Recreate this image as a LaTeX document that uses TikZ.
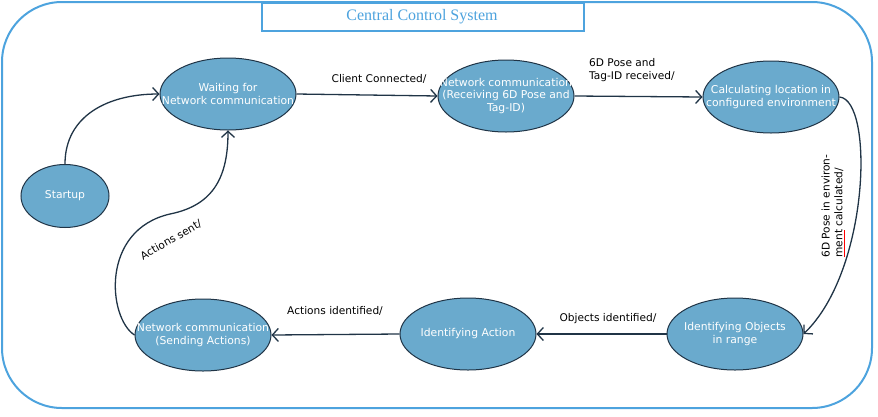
\documentclass[tikz,border=0pt]{standalone}
\usepackage{fontspec}
\setmainfont{DejaVu Sans}
\newfontfamily\titlefont{Liberation Serif}
\usetikzlibrary{shapes.geometric,arrows.meta}
\definecolor{stfill}{RGB}{106,170,205}
\definecolor{stline}{RGB}{32,52,70}
\definecolor{frame}{RGB}{77,163,222}
\begin{document}
\begin{tikzpicture}[x=1pt,y=-1pt,
  statebox/.style={ellipse,draw=stline,line width=1pt,fill=stfill,minimum width=136pt,minimum height=72pt,inner sep=0pt},
  statetext/.style={text=white,align=center,font=\fontsize{10.8}{12.8}\selectfont,inner sep=0pt},
  edgelabel/.style={text=black,font=\fontsize{10.6}{12.8}\selectfont,inner sep=0pt},
  trans/.style={draw=stline,line width=1.3pt,-{Straight Barb[length=6pt,width=13pt,line width=1.3pt]}}]
\useasboundingbox (0,0) rectangle (878,416);
% outer frame
\draw[frame,line width=2pt,rounded corners=60pt] (2,2) rectangle (872,408);
\node[draw=frame,line width=2pt,fill=white,minimum width=322pt,minimum height=28pt,inner sep=0pt,anchor=north west] (title) at (261,2) {};
\node[text=frame,font=\titlefont\fontsize{16}{18}\selectfont] (titletext) at (422,17) {Central Control System};
% states
\node[statebox,minimum width=88pt,minimum height=63pt] (s) at (65,196) {};
\node[statetext] (st) at (s) {Startup};
\node[statebox] (w) at (228,94) {};
\node[statetext] (wt) at (w) {Waiting for\\Network communication};
\node[statebox] (r) at (506,96) {};
\node[statetext] (rt) at (r) {Network communication\\(Receiving 6D Pose and\\Tag-ID)};
\node[statebox] (c) at (771,97) {};
\node[statetext] (ct) at (c) {Calculating location in\\configured environment};
\node[statebox] (o) at (735,334) {};
\node[statetext] (ot) at (o) {Identifying Objects\\in range};
\node[statebox] (a) at (468,334) {};
\node[statetext] (at) at (a) {Identifying Action};
\node[statebox] (n) at (203,335) {};
\node[statetext] (nt) at (n) {Network communication\\(Sending Actions)};
% transitions
\draw[trans] (s.north) .. controls +(0,-48) and +(-52,0) .. (w.west);
\draw[trans] (w.east) -- (r.west);
\draw[trans] (r.east) -- (c.west);
\draw[trans] (c.east) .. controls (874,100) and (870,270) .. (o.east);
\draw[trans] (o.west) -- (a.east);
\draw[trans] (a.west) -- (n.east);
\draw[trans] (n.west) .. controls (108,318) and (100,230) .. (170,214) .. controls (215,205) and (228,175) .. (w.south);
% labels
\node[edgelabel] (l1) at (379,79) {Client Connected/};
\node[edgelabel,align=left,anchor=west] (l2) at (589,70) {6D Pose and\\Tag-ID received/};
\node[edgelabel,align=left,rotate=90] (l3) at (833,206) {6D Pose in environ-\\{\color{red}\underline{\color{black}ment}} calculated/};
\node[edgelabel] (l4) at (608,319) {Objects identified/};
\node[edgelabel] (l5) at (335,311) {Actions identified/};
\node[edgelabel,rotate=30] (l6) at (171,240) {Actions sent/};
\end{tikzpicture}
\end{document}
